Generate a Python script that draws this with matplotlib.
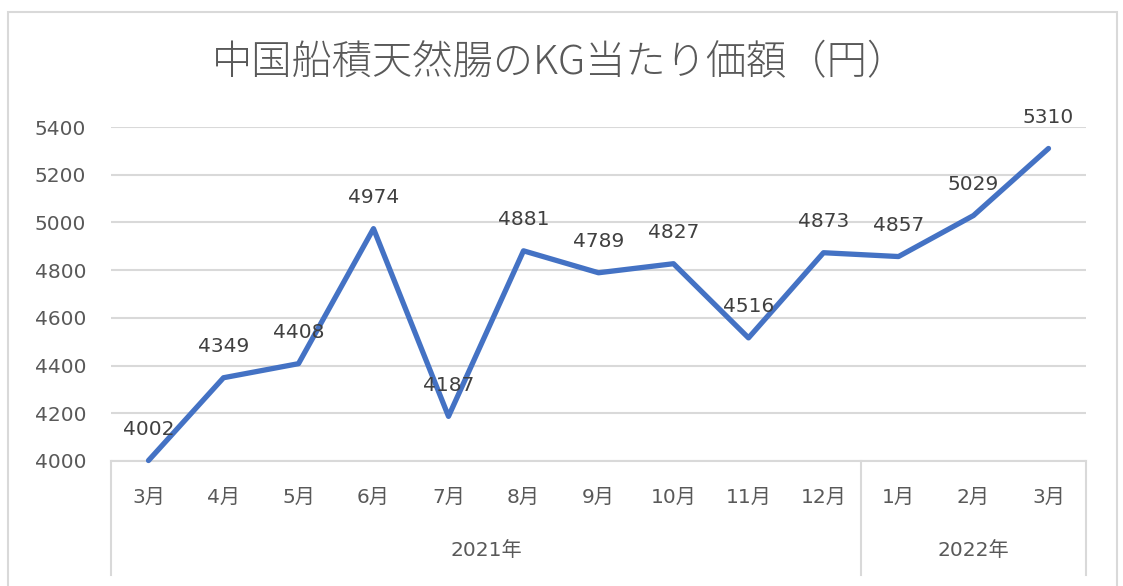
import matplotlib
matplotlib.use("Agg")
import matplotlib.pyplot as plt
from matplotlib.lines import Line2D
from matplotlib.patches import Rectangle

plt.rcParams["font.family"] = ["DejaVu Sans", "Noto Sans CJK JP"]

months = ["3月", "4月", "5月", "6月", "7月", "8月", "9月", "10月", "11月", "12月", "1月", "2月", "3月"]
years = ["2021年", "2022年"]
year_counts = [10, 3]
values = [4002, 4349, 4408, 4974, 4187, 4881, 4789, 4827, 4516, 4873, 4857, 5029, 5310]
yticks = [4000, 4200, 4400, 4600, 4800, 5000, 5200, 5400]

W, H = 1123, 586
fig = plt.figure(figsize=(W / 100, H / 100), dpi=100)

# chart border
fig.patches.append(Rectangle((8 / W, -0.05), (1117 - 8) / W, (H - 12) / H + 0.05,
                             transform=fig.transFigure, fill=False,
                             edgecolor="#d9d9d9", linewidth=1.5))

left, right = 111 / W, 1086 / W
bottom, top = (H - 461) / H, (H - 127) / H
ax = fig.add_axes([left, bottom, right - left, top - bottom])

x = list(range(len(values)))
ax.plot(x, values, color="#4472C4", linewidth=3.8, solid_capstyle="round",
        solid_joinstyle="round", clip_on=False, zorder=3)

fs = 14.5
for xi, v in zip(x, values):
    ax.annotate(str(v), (xi, v), xytext=(0, 31), textcoords="offset pixels",
                ha="center", va="center", fontsize=fs, color="#404040", zorder=4)

ax.set_xlim(-0.5, len(values) - 0.5)
ax.set_ylim(4000, 5400)
ax.set_yticks(yticks)
ax.set_yticklabels([str(t) for t in yticks], fontsize=fs, color="#595959")
ax.tick_params(axis="y", length=0, pad=18)
ax.set_xticks([])
ax.grid(axis="y", color="#d9d9d9", linewidth=1.5)
ax.set_axisbelow(True)
for s in ["top", "right", "left"]:
    ax.spines[s].set_visible(False)
ax.spines["bottom"].set_color("#d9d9d9")
ax.spines["bottom"].set_linewidth(1.5)

# multi-level category axis
trans = ax.get_xaxis_transform()
axis_bottom = -(575 - 461) / (461 - 127)
month_y = -(497 - 461) / (461 - 127)
year_y = -(551 - 461) / (461 - 127)
for xi, m in zip(x, months):
    ax.text(xi, month_y, m, transform=trans, ha="center", va="center",
            fontsize=fs, color="#595959")

start = 0
bounds = [-0.5]
for yname, cnt in zip(years, year_counts):
    ax.text(start + (cnt - 1) / 2, year_y, yname, transform=trans, ha="center",
            va="center", fontsize=fs, color="#595959")
    start += cnt
    bounds.append(start - 0.5)
for b in bounds:
    ax.add_line(Line2D([b, b], [0, axis_bottom], transform=trans, color="#d9d9d9",
                       linewidth=1.5, clip_on=False))

fig.text(560 / W, (H - 63) / H, "中国船積天然腸のKG当たり価額（円）", ha="center",
         va="center", fontsize=29, color="#595959", fontweight="light",
         family=["Noto Sans CJK JP", "DejaVu Sans"])

fig.savefig("out.png", dpi=100)
